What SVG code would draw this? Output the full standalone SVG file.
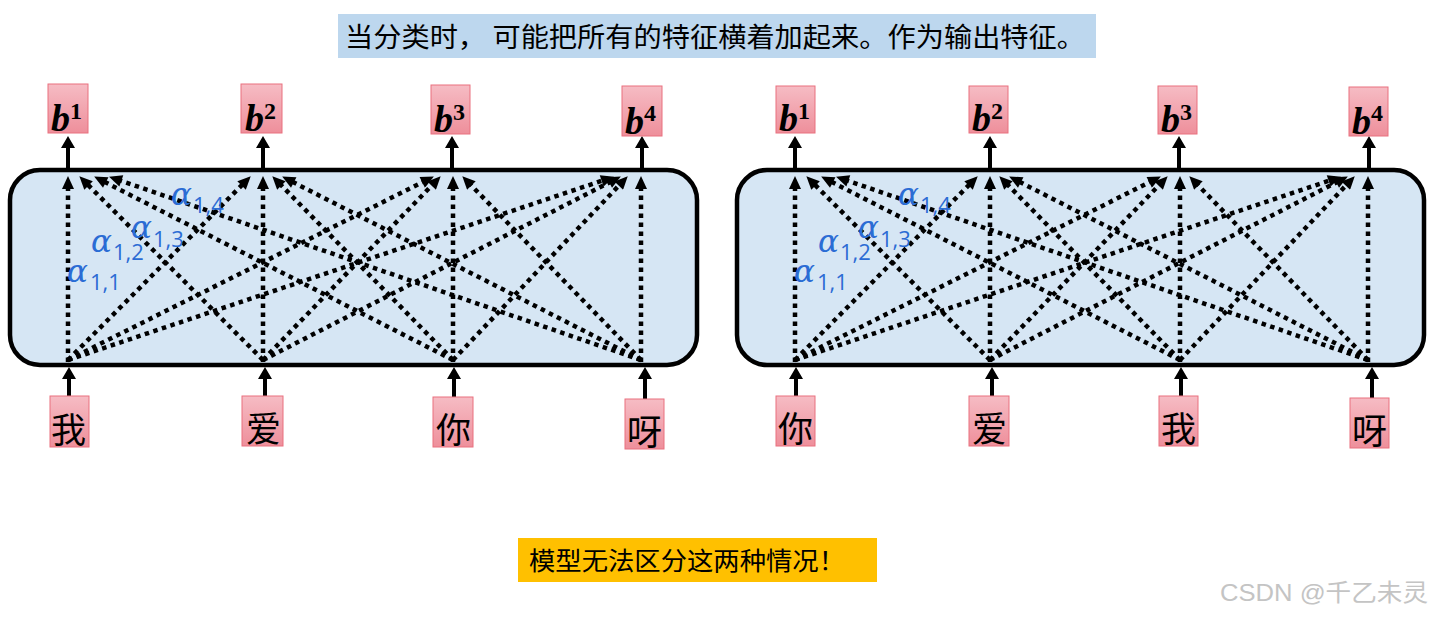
<svg xmlns="http://www.w3.org/2000/svg" width="1433" height="617" viewBox="0 0 1433 617">
<style>
.panel{fill:#d6e6f4;stroke:#000;stroke-width:4.5}
.box{fill:url(#pink);stroke:#e9707f;stroke-width:1}
.dot{fill:none;stroke:#000;stroke-width:4.5;stroke-dasharray:4.5 4.5;marker-end:url(#ah)}
.solid{fill:none;stroke:#000;stroke-width:4}
.head{fill:#000}
.bt{font-family:"Liberation Serif",serif;font-weight:bold;font-style:italic;font-size:38px;fill:#000}
.sup{font-family:"Liberation Serif",serif;font-weight:bold;font-size:24px;fill:#000}
.cn{font-family:"Noto Sans CJK SC",sans-serif;font-size:35px;fill:#000}
.al{font-family:"DejaVu Serif",serif;font-style:italic;font-size:31px;fill:#2b6cd4}
.sub{font-family:"Open Sans",sans-serif;font-size:22px;fill:#2b6cd4}
</style>
<defs>
<linearGradient id="pink" x1="0" y1="0" x2="0" y2="1">
<stop offset="0" stop-color="#f6bcc4"/>
<stop offset="1" stop-color="#ee8f9b"/>
</linearGradient>
<marker id="ah" markerUnits="userSpaceOnUse" markerWidth="14" markerHeight="12" viewBox="0 0 13 12" refX="7" refY="6" orient="auto">
<path d="M0,0 L13,6 L0,12 z" fill="#000"/>
</marker>
</defs>
<rect width="1433" height="617" fill="#fff"/>

<g id="title">
<rect x="338" y="14" width="758" height="44" fill="#bdd7ee"/>
<text x="345" y="47" font-family="Noto Sans CJK SC,sans-serif" font-size="27" textLength="740" lengthAdjust="spacingAndGlyphs">当分类时， 可能把所有的特征横着加起来。作为输出特征。</text>
</g>

<g id="left-panel">
<rect class="panel" x="10" y="170" width="687" height="195" rx="30"/>
</g>
<g id="left-connectors">
<path class="dot" d="M68,362 L68,182"/>
<path class="dot" d="M68,360 L246.5,180.5"/>
<path class="dot" d="M68,360 L428.5,179.2"/>
<path class="dot" d="M68,360 L608.3,178.6"/>
<path class="dot" d="M263,360 L83.6,180.5"/>
<path class="dot" d="M263,362 L263,182"/>
<path class="dot" d="M263,360 L436.5,180.6"/>
<path class="dot" d="M263,360 L615.5,179.3"/>
<path class="dot" d="M453,360 L99.5,179.3"/>
<path class="dot" d="M453,360 L276.5,180.5"/>
<path class="dot" d="M453,362 L453,182"/>
<path class="dot" d="M453,360 L623.6,180.6"/>
<path class="dot" d="M641,360 L114.7,178.6"/>
<path class="dot" d="M641,360 L287.5,179.3"/>
<path class="dot" d="M641,360 L466.5,180.5"/>
<path class="dot" d="M641,362 L641,182"/>
<path class="solid" d="M68,170 V146 M263,170 V146 M452,170 V146 M642,170 V146"/>
<path class="head" d="M61,148 L68,136 L75,148 z M256,148 L263,136 L270,148 z M445,148 L452,136 L459,148 z M635,148 L642,136 L649,148 z"/>
<path class="solid" d="M69,396 V377 M265,396 V377 M454,397 V377 M645,399 V377"/>
<path class="head" d="M62,379 L69,367 L76,379 z M258,379 L265,367 L272,379 z M447,379 L454,367 L461,379 z M638,379 L645,367 L652,379 z"/>
</g>
<g id="left-alpha">
<text x="67" y="282" class="al">α</text><text x="90" y="290" class="sub">1,1</text>
<text x="91" y="252" class="al">α</text><text x="113" y="260" class="sub">1,2</text>
<text x="131" y="238" class="al">α</text><text x="153" y="247" class="sub">1,3</text>
<text x="171" y="205" class="al">α</text><text x="193" y="213" class="sub">1,4</text>
</g>
<g id="left-b1"><rect class="box" x="48" y="84" width="40" height="49"/><text x="51" y="131" class="bt">b</text><text x="70" y="119" class="sup">1</text></g>
<g id="left-b2"><rect class="box" x="241" y="84" width="41" height="49"/><text x="245" y="131" class="bt">b</text><text x="264" y="119" class="sup">2</text></g>
<g id="left-b3"><rect class="box" x="431" y="85" width="39" height="49"/><text x="434" y="132" class="bt">b</text><text x="453" y="120" class="sup">3</text></g>
<g id="left-b4"><rect class="box" x="622" y="86" width="40" height="50"/><text x="625" y="134" class="bt">b</text><text x="644" y="121" class="sup">4</text></g>
<g id="left-in1"><rect class="box" x="50" y="396" width="39" height="51"/><text x="51" y="443" class="cn">我</text></g>
<g id="left-in2"><rect class="box" x="242" y="396" width="41" height="50"/><text x="246" y="442" class="cn">爱</text></g>
<g id="left-in3"><rect class="box" x="433" y="397" width="40" height="50"/><text x="436" y="443" class="cn">你</text></g>
<g id="left-in4"><rect class="box" x="625" y="399" width="39" height="50"/><text x="627" y="445" class="cn">呀</text></g>

<g id="right-panel" transform="translate(727,0)">
<rect class="panel" x="10" y="170" width="687" height="195" rx="30"/>
</g>
<g id="right-connectors" transform="translate(727,0)">
<path class="dot" d="M68,362 L68,182"/>
<path class="dot" d="M68,360 L246.5,180.5"/>
<path class="dot" d="M68,360 L428.5,179.2"/>
<path class="dot" d="M68,360 L608.3,178.6"/>
<path class="dot" d="M263,360 L83.6,180.5"/>
<path class="dot" d="M263,362 L263,182"/>
<path class="dot" d="M263,360 L436.5,180.6"/>
<path class="dot" d="M263,360 L615.5,179.3"/>
<path class="dot" d="M453,360 L99.5,179.3"/>
<path class="dot" d="M453,360 L276.5,180.5"/>
<path class="dot" d="M453,362 L453,182"/>
<path class="dot" d="M453,360 L623.6,180.6"/>
<path class="dot" d="M641,360 L114.7,178.6"/>
<path class="dot" d="M641,360 L287.5,179.3"/>
<path class="dot" d="M641,360 L466.5,180.5"/>
<path class="dot" d="M641,362 L641,182"/>
<path class="solid" d="M68,170 V146 M263,170 V146 M452,170 V146 M642,170 V146"/>
<path class="head" d="M61,148 L68,136 L75,148 z M256,148 L263,136 L270,148 z M445,148 L452,136 L459,148 z M635,148 L642,136 L649,148 z"/>
<path class="solid" d="M69,396 V377 M265,396 V377 M454,397 V377 M645,399 V377"/>
<path class="head" d="M62,379 L69,367 L76,379 z M258,379 L265,367 L272,379 z M447,379 L454,367 L461,379 z M638,379 L645,367 L652,379 z"/>
</g>
<g id="right-alpha" transform="translate(727,0)">
<text x="67" y="282" class="al">α</text><text x="90" y="290" class="sub">1,1</text>
<text x="91" y="252" class="al">α</text><text x="113" y="260" class="sub">1,2</text>
<text x="131" y="238" class="al">α</text><text x="153" y="247" class="sub">1,3</text>
<text x="171" y="205" class="al">α</text><text x="193" y="213" class="sub">1,4</text>
</g>
<g id="right-b1"><rect class="box" x="776" y="86" width="39" height="47"/><text x="779" y="131" class="bt">b</text><text x="798" y="119" class="sup">1</text></g>
<g id="right-b2"><rect class="box" x="969" y="86" width="39" height="47"/><text x="972" y="131" class="bt">b</text><text x="991" y="119" class="sup">2</text></g>
<g id="right-b3"><rect class="box" x="1158" y="86" width="39" height="48"/><text x="1161" y="132" class="bt">b</text><text x="1180" y="120" class="sup">3</text></g>
<g id="right-b4"><rect class="box" x="1349" y="87" width="39" height="49"/><text x="1352" y="134" class="bt">b</text><text x="1371" y="121" class="sup">4</text></g>
<g id="right-in1"><rect class="box" x="776" y="396" width="39" height="50"/><text x="778" y="442" class="cn">你</text></g>
<g id="right-in2"><rect class="box" x="969" y="396" width="40" height="50"/><text x="972" y="442" class="cn">爱</text></g>
<g id="right-in3"><rect class="box" x="1159" y="396" width="39" height="50"/><text x="1161" y="442" class="cn">我</text></g>
<g id="right-in4"><rect class="box" x="1350" y="398" width="39" height="50"/><text x="1352" y="444" class="cn">呀</text></g>

<g id="conclusion">
<rect x="518" y="538" width="359" height="44" fill="#ffc000"/>
<text x="529" y="570" font-family="Noto Sans CJK SC,sans-serif" font-size="25" textLength="316" lengthAdjust="spacingAndGlyphs">模型无法区分这两种情况！</text>
</g>
<text x="1220" y="601" font-family="Liberation Sans,Noto Sans CJK SC,sans-serif" font-size="24" fill="#c4c4c4" textLength="208" lengthAdjust="spacingAndGlyphs">CSDN @千乙未灵</text>
</svg>
